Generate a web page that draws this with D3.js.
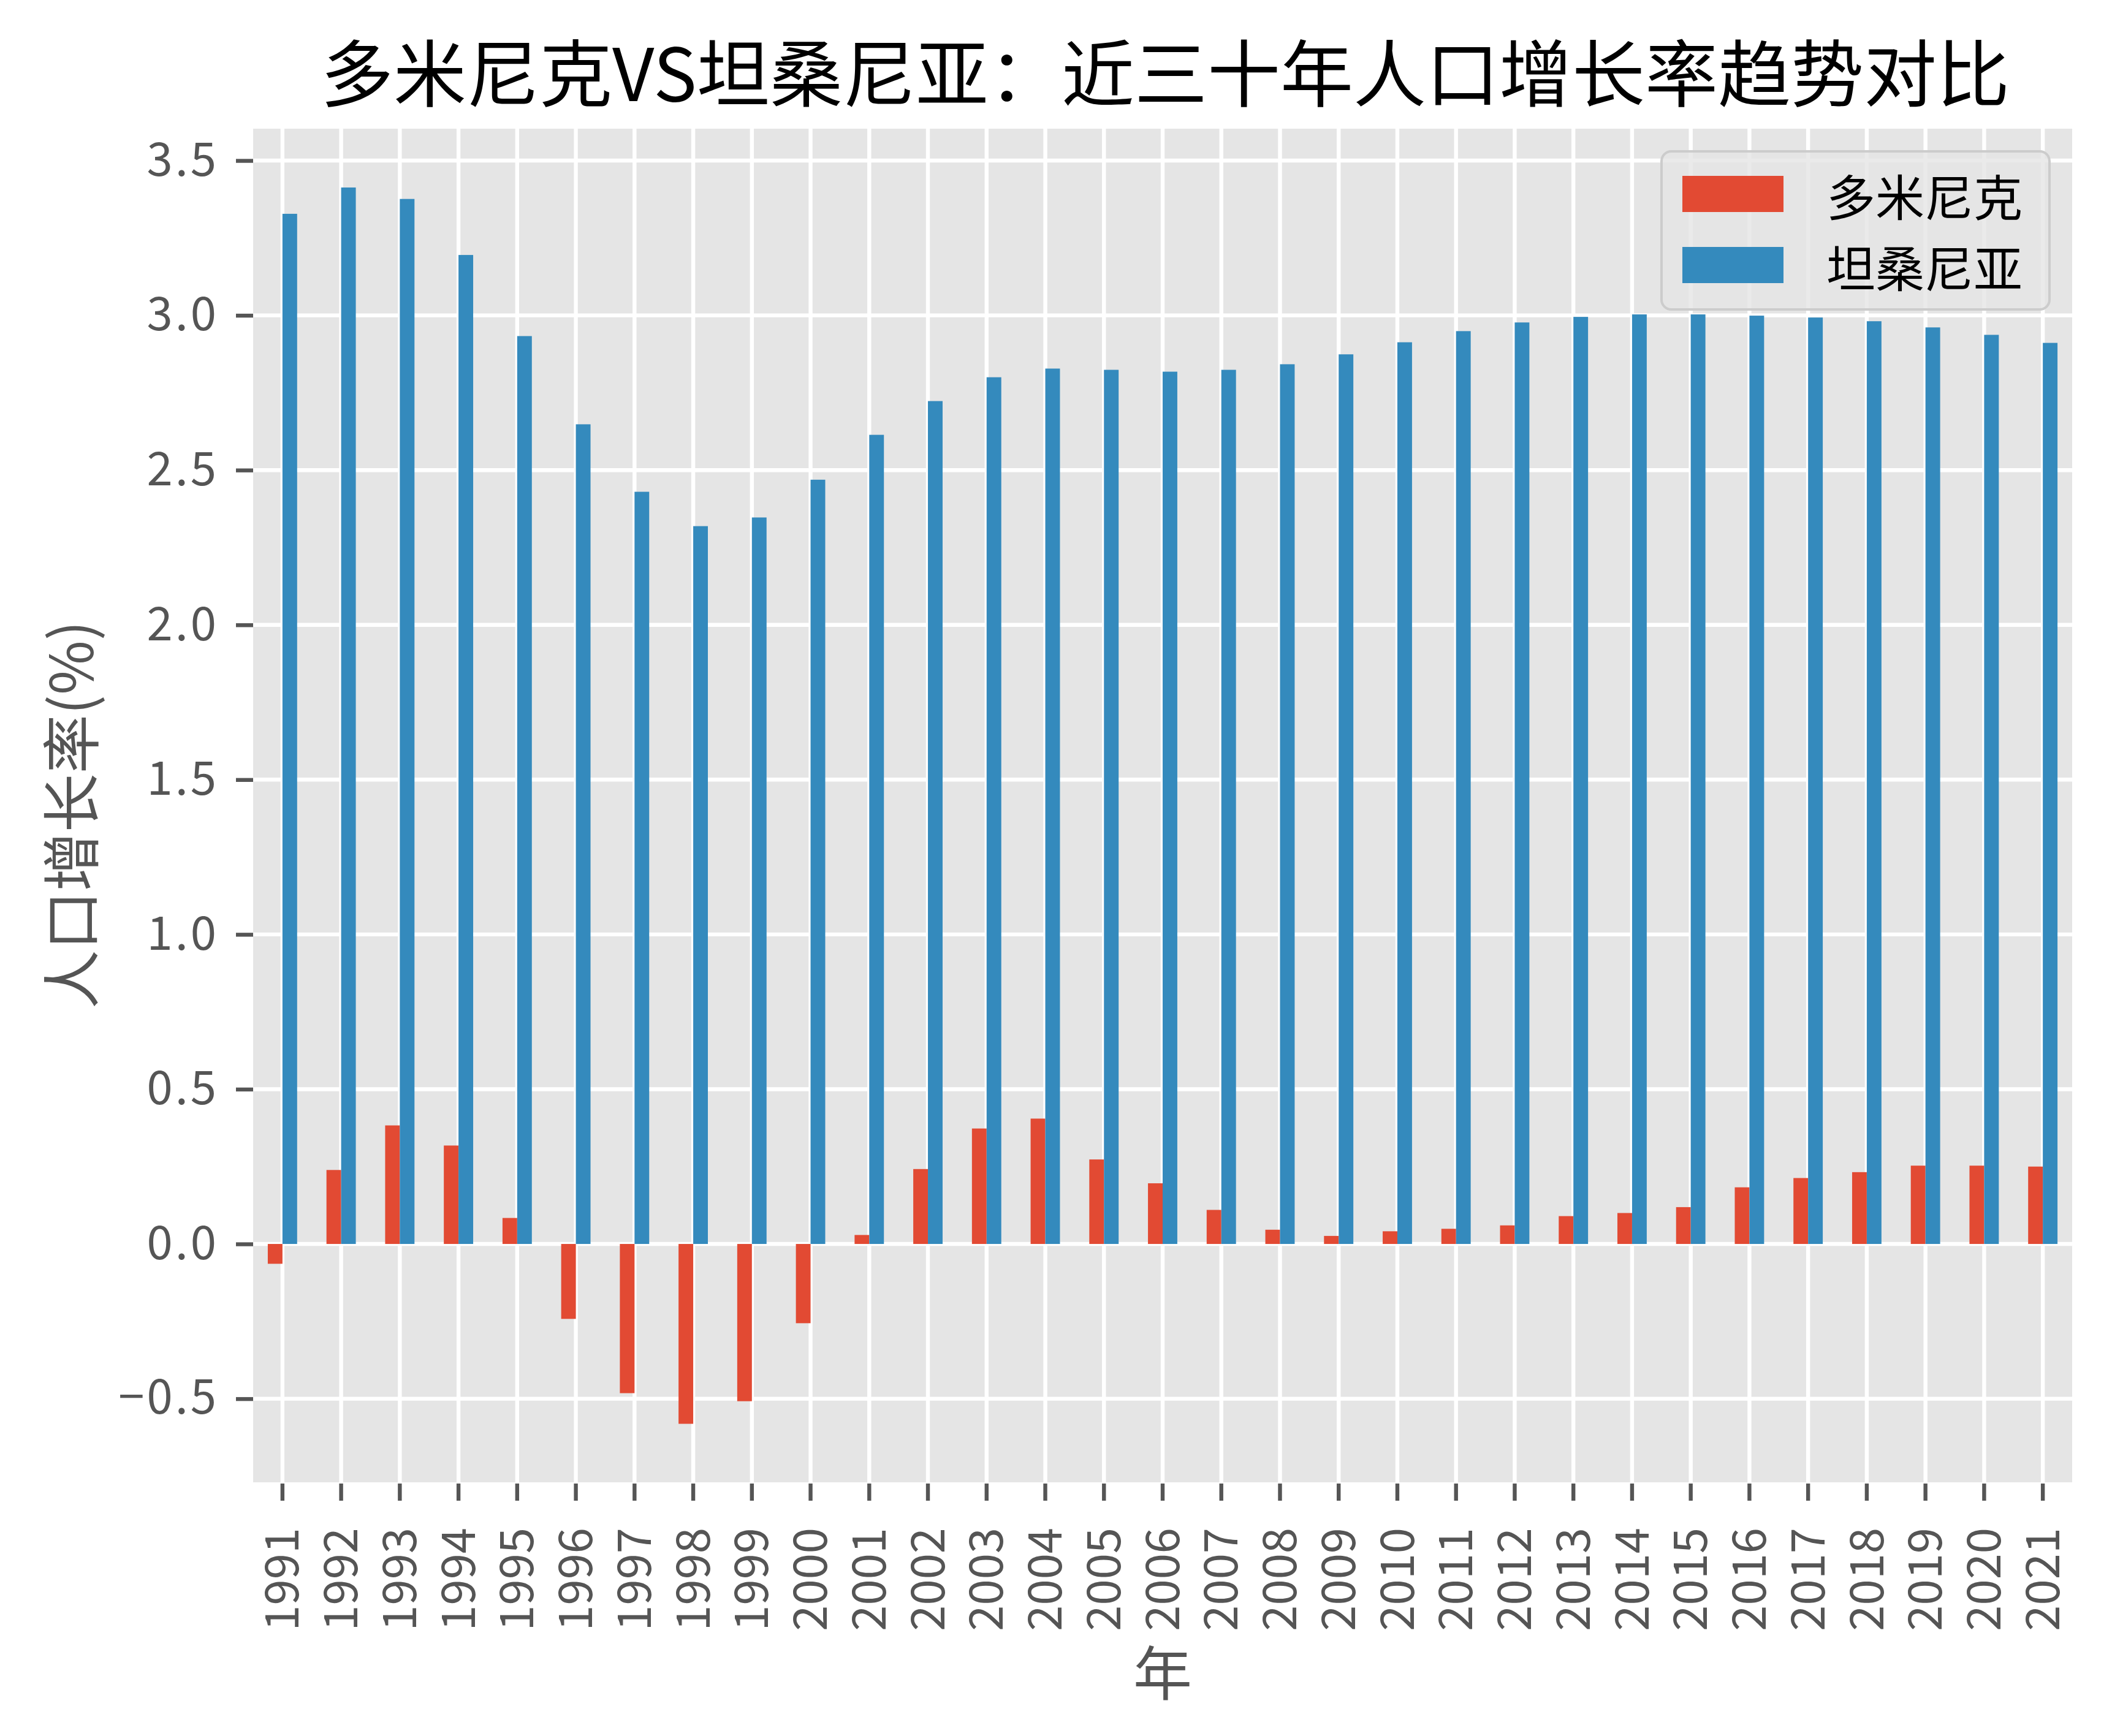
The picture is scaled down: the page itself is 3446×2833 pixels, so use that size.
<!DOCTYPE html>
<html>
<head>
<meta charset="utf-8">
<script src="https://cdn.jsdelivr.net/npm/d3@7"></script>
<style>
  html, body { margin: 0; padding: 0; background: #ffffff; }
  svg { display: block; }
  text { font-family: "Noto Sans CJK SC", "Noto Sans", sans-serif; }
</style>
</head>
<body>
<script>
// ---- data ----
const years = [1991,1992,1993,1994,1995,1996,1997,1998,1999,2000,2001,2002,2003,2004,2005,2006,2007,2008,2009,2010,2011,2012,2013,2014,2015,2016,2017,2018,2019,2020,2021];
const dominica = [-0.064,0.239,0.383,0.318,0.084,-0.242,-0.482,-0.581,-0.508,-0.256,0.029,0.242,0.373,0.405,0.273,0.196,0.110,0.046,0.026,0.041,0.049,0.060,0.090,0.100,0.119,0.183,0.213,0.232,0.253,0.253,0.250];
const tanzania = [3.328,3.413,3.376,3.195,2.933,2.648,2.430,2.319,2.347,2.469,2.614,2.723,2.800,2.828,2.824,2.818,2.824,2.842,2.874,2.913,2.949,2.977,2.995,3.003,3.003,2.999,2.993,2.981,2.961,2.937,2.911];
const seriesNames = ["多米尼克", "坦桑尼亚"];
const yTicks = [-0.5, 0.0, 0.5, 1.0, 1.5, 2.0, 2.5, 3.0, 3.5];
const titleText = "多米尼克VS坦桑尼亚：近三十年人口增长率趋势对比";
const xLabelText = "年";
const yLabelText = "人口增长率(%)";

// ---- layout ----
const W = 3446, H = 2833;
const plot = { left: 413, right: 3381, top: 210, bottom: 2419 };
const yDomain = [-0.770, 3.603];
const colors = ["#E24A33", "#348ABD"];
const textGrey = "#555555";
const tickFont = 76;
const gridW = 6.4;
const tickLen = 28;

const svg = d3.select("body").append("svg")
  .attr("width", W).attr("height", H)
  .attr("viewBox", `0 0 ${W} ${H}`);
svg.append("rect").attr("width", W).attr("height", H).attr("fill", "#ffffff");

const x = d3.scaleBand().domain(years).range([plot.left, plot.right]).paddingInner(0).paddingOuter(0);
const y = d3.scaleLinear().domain(yDomain).range([plot.bottom, plot.top]);
const bw = x.bandwidth();
const cx = d => x(d) + bw / 2;

// background
svg.append("rect")
  .attr("x", plot.left).attr("y", plot.top)
  .attr("width", plot.right - plot.left).attr("height", plot.bottom - plot.top)
  .attr("fill", "#E5E5E5");

// grid
const grid = svg.append("g");
grid.selectAll("line.h").data(yTicks).join("line")
  .attr("x1", plot.left).attr("x2", plot.right)
  .attr("y1", d => y(d)).attr("y2", d => y(d))
  .attr("stroke", "#ffffff").attr("stroke-width", gridW);
grid.selectAll("line.v").data(years).join("line")
  .attr("x1", d => cx(d)).attr("x2", d => cx(d))
  .attr("y1", plot.top).attr("y2", plot.bottom)
  .attr("stroke", "#ffffff").attr("stroke-width", gridW);

// bars
const barW = bw * 0.25;
const seriesData = [dominica, tanzania];
seriesData.forEach((vals, si) => {
  svg.append("g").selectAll("rect").data(years).join("rect")
    .attr("x", (d) => cx(d) + (si === 0 ? -barW : 0))
    .attr("width", barW)
    .attr("y", (d, i) => y(Math.max(0, vals[i])))
    .attr("height", (d, i) => Math.abs(y(vals[i]) - y(0)))
    .attr("fill", colors[si]);
});

// y axis
const yAxis = d3.axisLeft(y).tickValues(yTicks).tickSize(tickLen).tickPadding(28).tickFormat(d3.format(".1f"));
const gy = svg.append("g").attr("transform", `translate(${plot.left},0)`).call(yAxis);
gy.select(".domain").remove();
gy.selectAll(".tick line").attr("stroke", textGrey).attr("stroke-width", gridW);
gy.selectAll(".tick text").attr("fill", textGrey).attr("font-size", tickFont)
  .attr("font-family", "'Noto Sans CJK SC', sans-serif").attr("letter-spacing", 4);

// x axis
const xAxis = d3.axisBottom(x).tickSize(tickLen).tickPadding(0);
const gx = svg.append("g").attr("transform", `translate(0,${plot.bottom + 2})`).call(xAxis);
gx.select(".domain").remove();
gx.selectAll(".tick line").attr("stroke", textGrey).attr("stroke-width", gridW);
gx.selectAll(".tick text")
  .attr("fill", textGrey).attr("font-size", tickFont)
  .attr("font-family", "'Noto Sans CJK SC', sans-serif")
  .attr("transform", "translate(0,72) rotate(-90)")
  .attr("text-anchor", "end").attr("dy", "0.35em").attr("y", 0).attr("x", 0);

// title
svg.append("text").attr("x", (plot.left + plot.right) / 2 + 4).attr("y", 113)
  .attr("text-anchor", "middle").attr("dominant-baseline", "central")
  .attr("font-size", 119).attr("fill", "#000000").text(titleText);

// axis labels
svg.append("text").attr("x", (plot.left + plot.right) / 2).attr("y", 2724)
  .attr("text-anchor", "middle").attr("dominant-baseline", "central")
  .attr("font-size", 96).attr("fill", textGrey).text(xLabelText);
svg.append("text").attr("transform", `translate(110,${(plot.top + plot.bottom) / 2 + 15}) rotate(-90)`)
  .attr("text-anchor", "middle").attr("dominant-baseline", "central")
  .attr("font-size", 96).attr("fill", textGrey).text(yLabelText);

// legend
const lg = svg.append("g");
lg.append("rect").attr("x", 2711).attr("y", 247).attr("width", 633).attr("height", 258)
  .attr("rx", 16).attr("ry", 16)
  .attr("fill", "#E5E5E5").attr("fill-opacity", 0.8)
  .attr("stroke", "#CCCCCC").attr("stroke-width", 4);
const rowY = [316.5, 432.5];
seriesNames.forEach((name, i) => {
  lg.append("rect").attr("x", 2745).attr("y", rowY[i] - 29.5).attr("width", 165).attr("height", 59)
    .attr("fill", colors[i]);
  lg.append("text").attr("x", 2980).attr("y", rowY[i])
    .attr("dominant-baseline", "central").attr("font-size", 80).attr("fill", "#000000").text(name);
});
</script>
</body>
</html>
